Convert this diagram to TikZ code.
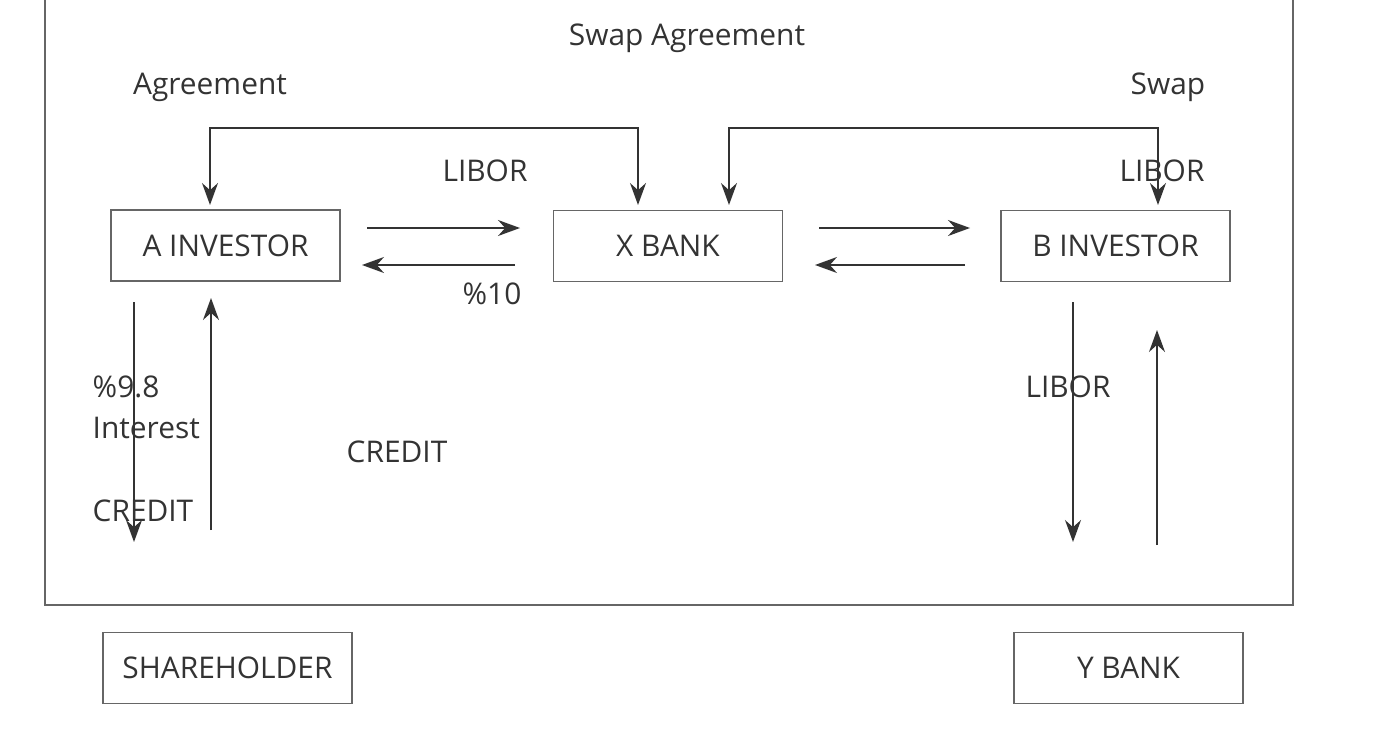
\documentclass[tikz,border=0pt]{standalone}
\usepackage{fontspec}
\setmainfont{Open Sans}
\usetikzlibrary{arrows.meta,positioning}
\tikzset{
>={Stealth[length=2.2mm,width=1.6mm]}, % small filled heads
box/.style={draw, gray!80!black, thin, minimum width=2.29cm, minimum height=0.71cm, text=black!80, font=\fontsize{8.5}{10}\selectfont}, % the rectangles
lbl/.style={text=black!80, font=\fontsize{8.5}{10}\selectfont, inner sep=0pt}, % free texts
flow/.style={->, thin, black!80}, % arrows
}
\begin{document}
\begin{tikzpicture}
		\useasboundingbox (0,0) rectangle (14,7.47);
		\draw[gray!80!black, thin] (0.45,7.47) |- (12.93,1.42) -- (12.93,7.47);

		\node[box] (A) at (2.255,5.015) {A INVESTOR};
		\node[box] (X) at (6.68,5.01) {X BANK};
		\node[box] (B) at (11.155,5.01) {B INVESTOR};
		\node[box, minimum width=2.49cm] (S) at (2.275,0.79) {SHAREHOLDER};
		\node[box] (Y) at (11.285,0.79) {Y BANK};

		\coordinate (a1) at (3.67,5.19); \coordinate (x1) at (5.20,5.19);
		\coordinate (x2) at (5.15,4.82); \coordinate (a2) at (3.62,4.82);
		\coordinate (x3) at (8.19,5.19); \coordinate (b1) at (9.70,5.19);
		\coordinate (b2) at (9.65,4.82); \coordinate (x4) at (8.15,4.82);
		\coordinate (t1) at (2.10,5.42); \coordinate (t2) at (6.38,5.42);
		\coordinate (t3) at (7.29,5.42); \coordinate (t4) at (11.58,5.42);
		\coordinate (d1) at (1.34,4.45); \coordinate (d2) at (1.34,2.05);
		\coordinate (u1) at (2.11,2.17); \coordinate (u2) at (2.11,4.49);
		\coordinate (d3) at (10.73,4.45); \coordinate (d4) at (10.73,2.05);
		\coordinate (u3) at (11.57,2.02); \coordinate (u4) at (11.57,4.17);

		\draw[flow] (a1) -- (x1);
		\draw[flow] (x2) -- (a2);
		\draw[flow] (x3) -- (b1);
		\draw[flow] (b2) -- (x4);
		\draw[flow, <->] (t1) |- (4.2,6.19) -| (t2);
		\draw[flow, <->] (t3) |- (9.4,6.19) -| (t4);
		\draw[flow] (d1) -- (d2);
		\draw[flow] (u1) -- (u2);
		\draw[flow] (d3) -- (d4);
		\draw[flow] (u3) -- (u4);

		\node[lbl] at (6.87,7.09) {Swap Agreement};
		\node[lbl] at (2.10,6.60) {Agreement};
		\node[lbl] at (11.68,6.60) {Swap};
		\node[lbl] at (4.85,5.76) {LIBOR};
		\node[lbl] at (11.62,5.76) {LIBOR};
		\node[lbl] at (4.92,4.53) {\%10};
		\node[lbl, anchor=west] at (0.92,3.60) {\%9.8};
		\node[lbl, anchor=west] at (0.92,3.19) {Interest};
		\node[lbl] at (3.97,2.95) {CREDIT};
		\node[lbl, anchor=west] at (0.92,2.36) {CREDIT};
		\node[lbl] at (10.68,3.60) {LIBOR};
	\end{tikzpicture}
\end{document}
